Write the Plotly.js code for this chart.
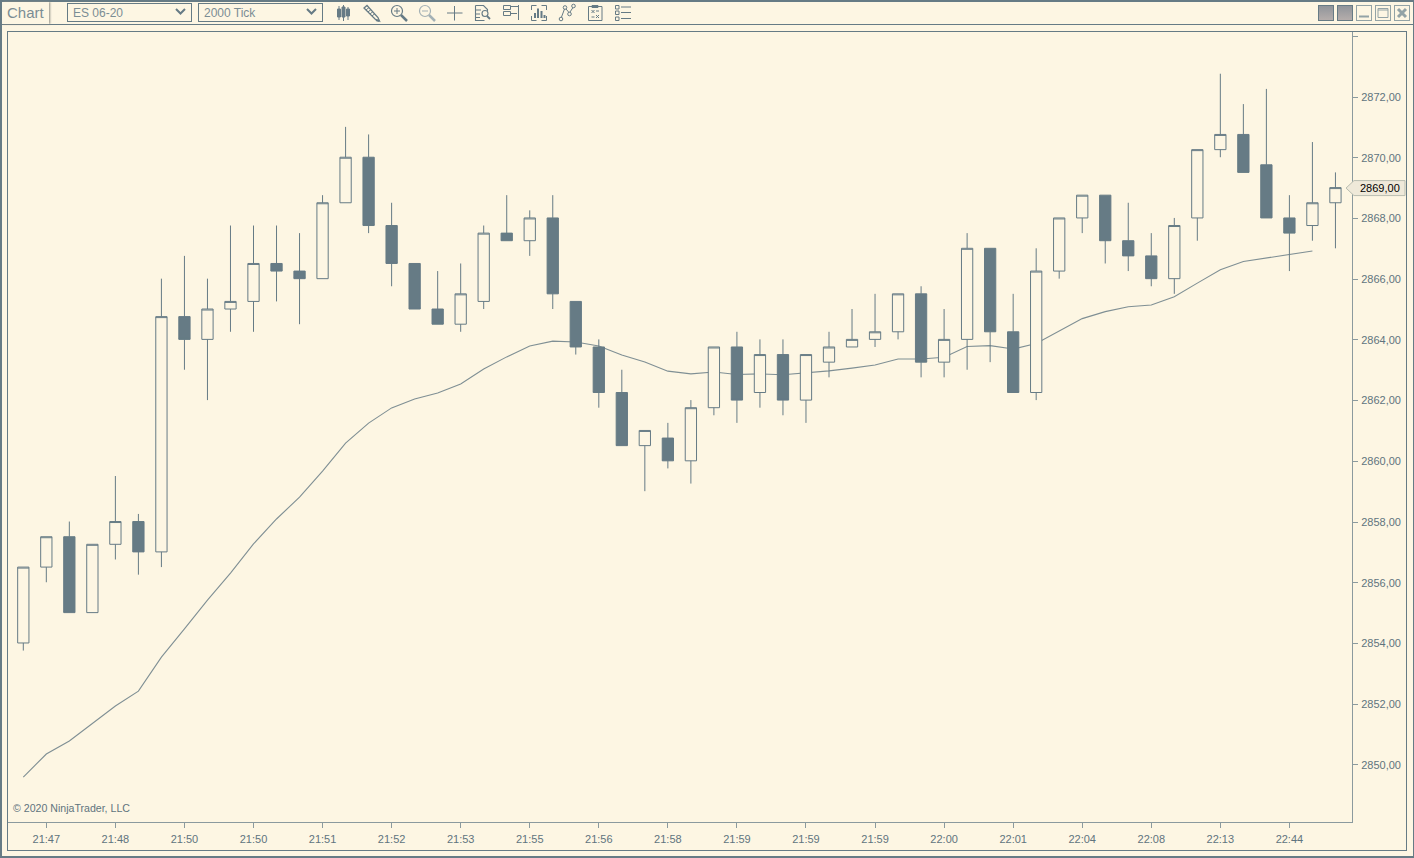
<!DOCTYPE html>
<html>
<head>
<meta charset="utf-8">
<script src="https://cdn.plot.ly/plotly-3.0.1.min.js"></script>
<style>
html,body{margin:0;padding:0;background:#fdf6e3;width:1414px;height:858px;overflow:hidden;font-family:"Liberation Sans",Arial,sans-serif}
#chart{position:absolute;left:0;top:0;width:1414px;height:858px}
.c{position:absolute;box-sizing:border-box;pointer-events:none}
.sel{top:3px;height:19px;width:125px;border:1px solid #667b85;color:#7b8d94;font-size:12px;line-height:18px;padding-left:5px}
svg.c{overflow:visible}
</style>
</head>
<body>
<div id="chart"></div>
<div class="c" style="left:0;top:0;width:1414px;height:858px;border:1px solid #667b85;border-width:2px 1px 2px 2px"></div>
<div class="c" style="left:7px;top:31px;width:1400px;height:820px;border:1px solid #667b85"></div>
<div class="c" style="left:0;top:24px;width:1414px;height:1px;background:#667b85"></div>
<div class="c" style="left:2px;top:2px;width:47px;height:22px;background:#fdf6e3;color:#7b8d94;font-size:15px;line-height:21px;padding-left:5px;box-shadow:1px 0 2px #8f8f87">Chart</div>
<div class="c sel" style="left:67px">ES 06-20</div>
<div class="c sel" style="left:198px">2000 Tick</div>
<svg class="c" style="left:0;top:0" width="1414" height="30" fill="none" stroke="#667b85" stroke-width="1">
<path d="M176 9l4.500 4.500L185 9M307 9l4.500 4.500L316 9" stroke-width="2"/>
<g id="ico">
<path d="M339 6v14M343.500 5v16M348 7v13"/><path d="M337.500 9h3v8h-3zM342 7h3v10h-3zM346.500 9h3v7h-3z" fill="#667b85"/>
<path d="M364 8l3-2.500 11 12 1.500 3.500-4-1.500z" stroke-width="1.300"/><path d="M366 10l3-2.500M368 12l3-2.500M370 14l3-2.500M372 16l3-2.500"/><path d="M376 20l3 1" stroke-width="2"/>
<circle cx="397" cy="11" r="5.500" stroke-width="1.200"/><path d="M394 11h6M397 8v6"/><path d="M401 15l6 6" stroke-width="2.500"/>
<g stroke="#a4b1b5"><circle cx="425" cy="11" r="5.500" stroke-width="1.200"/><path d="M422 11h6"/><path d="M429 15l6 6" stroke-width="2.500"/></g>
<path d="M447 13h15.500M454.500 6v14.500"/>
<path d="M475.500 5.500h8l4 4v2M475.500 5.500v15h9M476 10h5M476 14h4M476 17.500h4" stroke-width="1.100"/><circle cx="485" cy="13.500" r="3" stroke-width="1.100"/><path d="M487 16l3 3" stroke-width="1.800"/>
<path d="M503.500 5.500h7v4h-7zM503.500 11.500h7v4h-7zM511 6.500h8M511 13.500h6M518.500 5v15"/>
<path d="M531.500 10V5.500h5M546.500 10V5.500h-5M531.500 16v4.500h5M546.500 16v4.500h-5"/><path d="M535 18v-5M538 18V8.500M541.500 18v-7M544.500 18v-3" stroke-width="2"/>
<circle cx="561" cy="19" r="1.800"/><circle cx="565" cy="7.500" r="1.800"/><circle cx="569.500" cy="14" r="1.800"/><circle cx="573.500" cy="6" r="1.800"/><path d="M561.500 17l3-8M566 9l3 3.500M570 12l3-4.500"/>
<path d="M588.500 6.500h13.500v14h-13.500zM592 5.500h6v2h-6zM591.500 10l3 3M594.500 10l-3 3M596 15l3 3M599 15l-3 3M591.500 17h3M596 11h3"/>
<path d="M615.500 5.500h3.500v3.500h-3.500zM615.500 11h3.500v3.500h-3.500zM615.500 17h3.500v3.500h-3.500zM621 7h10M621 12.500h10M621 18.500h10"/>
</g>
<defs><linearGradient id="g" x1="0" y1="0" x2="0" y2="1"><stop offset="0" stop-color="#8f949a"/><stop offset="1" stop-color="#b6aeac"/></linearGradient></defs>
<rect x="1318.500" y="5.500" width="15" height="15" fill="url(#g)"/><rect x="1337.500" y="5.500" width="15" height="15" fill="url(#g)"/>
<g stroke="#93a3a6"><rect x="1356.500" y="5.500" width="15" height="15"/><rect x="1375.500" y="5.500" width="15" height="15"/><rect x="1394.500" y="5.500" width="15" height="15"/>
<path d="M1359 16.500h10" stroke-width="2"/><path d="M1378 8.500h10v9h-10zM1378 10h10" /><path d="M1398 9l8 8M1406 9l-8 8" stroke-width="3"/></g>
</svg>
<script>
// Candles (ES 06-20, 2000 tick)
var open_ = [2854,2856.5,2857.5,2855,2857.25,2858,2857,2864.75,2864,2865,2865.25,2866.5,2866.25,2866,2868.5,2870,2867.75,2866.5,2865,2864.5,2865.25,2867.5,2867.25,2868,2865.25,2863.75,2862.25,2860.5,2860.75,2860,2861.75,2863.75,2862.25,2863.5,2862,2863.25,2863.75,2864,2864.25,2865.5,2863.25,2864,2867,2864.25,2862.25,2866.25,2868,2868.75,2867.25,2866.75,2866,2868,2870.25,2870.75,2869.75,2868,2867.75,2868.5];
var close_ = [2856.5,2857.5,2855,2857.25,2858,2857,2864.75,2864,2865,2865.25,2866.5,2866.25,2866,2868.5,2870,2867.75,2866.5,2865,2864.5,2865.5,2867.5,2867.25,2868,2865.5,2863.75,2862.25,2860.5,2861,2860,2861.75,2863.75,2862,2863.5,2862,2863.5,2863.75,2864,2864.25,2865.5,2863.25,2864,2867,2864.25,2862.25,2866.25,2868,2868.75,2867.25,2866.75,2866,2867.75,2870.25,2870.75,2869.5,2868,2867.5,2868.5,2869];
var high_ = [2856.5,2857.5,2858,2857.25,2859.5,2858.25,2866,2866.75,2866,2867.75,2867.75,2867.75,2867.5,2868.75,2871,2870.75,2868.5,2866.5,2866.25,2866.5,2867.75,2868.75,2868.25,2868.75,2865.25,2864,2863,2861,2861.25,2862,2863.75,2864.25,2864,2864,2863.5,2864.25,2865,2865.5,2865.5,2865.75,2865,2867.5,2867,2865.5,2867,2868,2868.75,2868.75,2868.5,2867.5,2868,2870.25,2872.75,2871.75,2872.25,2868.75,2870.5,2869.5];
var low_ = [2853.75,2856,2855,2855,2856.75,2856.25,2856.5,2863,2862,2864.25,2864.25,2865.25,2864.5,2866,2868.5,2867.5,2865.75,2865,2864.5,2864.25,2865,2867.25,2866.75,2865,2863.5,2861.75,2860.5,2859,2859.75,2859.25,2861.5,2861.25,2861.75,2861.5,2861.25,2862.75,2863.75,2863.75,2864,2862.75,2862.75,2863,2863.25,2862.25,2862,2866,2867.5,2866.5,2866.25,2865.75,2865.5,2867.25,2870,2869.5,2868,2866.25,2867.25,2867];
var movingAverage = [2849.6,2850.36,2850.79,2851.38,2851.94,2852.43,2853.55,2854.48,2855.43,2856.32,2857.28,2858.1,2858.82,2859.68,2860.6,2861.26,2861.76,2862.05,2862.25,2862.55,2863.04,2863.44,2863.8,2863.96,2863.93,2863.8,2863.5,2863.27,2862.97,2862.88,2862.94,2862.86,2862.88,2862.85,2862.91,2862.98,2863.07,2863.17,2863.37,2863.37,2863.43,2863.78,2863.81,2863.7,2863.88,2864.28,2864.7,2864.93,2865.09,2865.15,2865.42,2865.87,2866.31,2866.58,2866.7,2866.8,2866.93];
var barIndex = [0,1,2,3,4,5,6,7,8,9,10,11,12,13,14,15,16,17,18,19,20,21,22,23,24,25,26,27,28,29,30,31,32,33,34,35,36,37,38,39,40,41,42,43,44,45,46,47,48,49,50,51,52,53,54,55,56,57];
var timeTickIndex = [1,4,7,10,13,16,19,22,25,28,31,34,37,40,43,46,49,52,55];
var timeTickText = ['21:47','21:48','21:50','21:50','21:51','21:52','21:53','21:55','21:56','21:58','21:59','21:59','21:59','22:00','22:01','22:04','22:08','22:13','22:44'];
var priceTickVals = [2850,2852,2854,2856,2858,2860,2862,2864,2866,2868,2870,2872,2874];
var priceTickText = ['2850,00','2852,00','2854,00','2856,00','2858,00','2860,00','2862,00','2864,00','2866,00','2868,00','2870,00','2872,00',''];
var lastPrice = 2869, lastPriceText = '2869,00';

var ink = '#667b85', cream = '#fdf6e3', axisGrey = '#8b9a9e', maGrey = '#7f8f94', labelInk = '#5f747e';
var W = 1414, H = 858, L = 8, R = 1352, T = 32, B = 822;
var x0 = 23.3, dx = 23.02, pxPerPt = 30.36;
var xRange = [(L - x0) / dx, (R - x0) / dx];
var yRange = [2872 - (B - 97) / pxPerPt, 2872 + (97 - T) / pxPerPt];
var candleYRange = [yRange[0] - 0.5 / pxPerPt, yRange[1] - 0.5 / pxPerPt];
function px(x){ return (x - L) / (R - L); }
function py(y){ return (B - y) / (B - T); }
var lastY = 97 + (2872 - lastPrice) * pxPerPt;

var traces = [
  {type:'scatter', mode:'lines', x:barIndex.slice(0, movingAverage.length), y:movingAverage, xaxis:'x', yaxis:'y',
   line:{color:maGrey, width:1.1, shape:'linear'}, hoverinfo:'skip', showlegend:false},
  {type:'candlestick', x:barIndex, open:open_, close:close_, high:high_, low:low_, xaxis:'x2', yaxis:'y2',
   whiskerwidth:0, showlegend:false, hoverinfo:'skip',
   increasing:{line:{color:ink, width:1}, fillcolor:cream},
   decreasing:{line:{color:ink, width:1}, fillcolor:ink}}
];
var layout = {
  width:W, height:H, autosize:false, showlegend:false,
  margin:{l:L, r:W-R, t:T, b:H-B, pad:0},
  paper_bgcolor:'rgba(0,0,0,0)', plot_bgcolor:'rgba(0,0,0,0)',
  font:{family:'"Liberation Sans",Arial,sans-serif', size:11, color:ink},
  boxgap:0.3,
  xaxis:{range:xRange, type:'linear', showgrid:false, zeroline:false, showline:true, linecolor:axisGrey, linewidth:1,
    ticks:'outside', ticklen:5, tickcolor:axisGrey, tickmode:'array', tickvals:timeTickIndex, ticktext:timeTickText,
    tickfont:{size:11,color:labelInk}, ticklabelstandoff:2, fixedrange:true, rangeslider:{visible:false}},
  yaxis:{range:yRange, side:'right', showgrid:false, zeroline:false, showline:true, linecolor:axisGrey, linewidth:1,
    ticks:'outside', ticklen:5, tickcolor:axisGrey, tickmode:'array', tickvals:priceTickVals, ticktext:priceTickText,
    tickfont:{size:11,color:labelInk}, ticklabelstandoff:1, fixedrange:true},
  xaxis2:{range:xRange, type:'linear', overlaying:'x', visible:false, fixedrange:true, rangeslider:{visible:false}},
  yaxis2:{range:candleYRange, overlaying:'y', visible:false, fixedrange:true},
  shapes:[
    {type:'path', xref:'paper', yref:'paper', layer:'above',
     path:'M'+px(1346)+','+py(lastY)+' L'+px(1354)+','+py(lastY-7.5)+' L'+px(1405)+','+py(lastY-7.5)+' L'+px(1405)+','+py(lastY+7.5)+' L'+px(1354)+','+py(lastY+7.5)+' Z',
     fillcolor:'#efe9d9', line:{color:'#b9bdb0', width:1}}
  ],
  annotations:[
    {xref:'paper', yref:'paper', x:px(1380), y:py(lastY), xanchor:'center', yanchor:'middle', showarrow:false, text:lastPriceText, font:{size:11,color:'#000'}},
    {xref:'paper', yref:'paper', x:px(13), y:py(808), xanchor:'left', yanchor:'middle', showarrow:false, text:'© 2020 NinjaTrader, LLC', font:{size:10.6,color:labelInk}, xshift:-2}
  ]
};
Plotly.newPlot('chart', traces, layout, {displayModeBar:false, staticPlot:true});
</script>
</body>
</html>
